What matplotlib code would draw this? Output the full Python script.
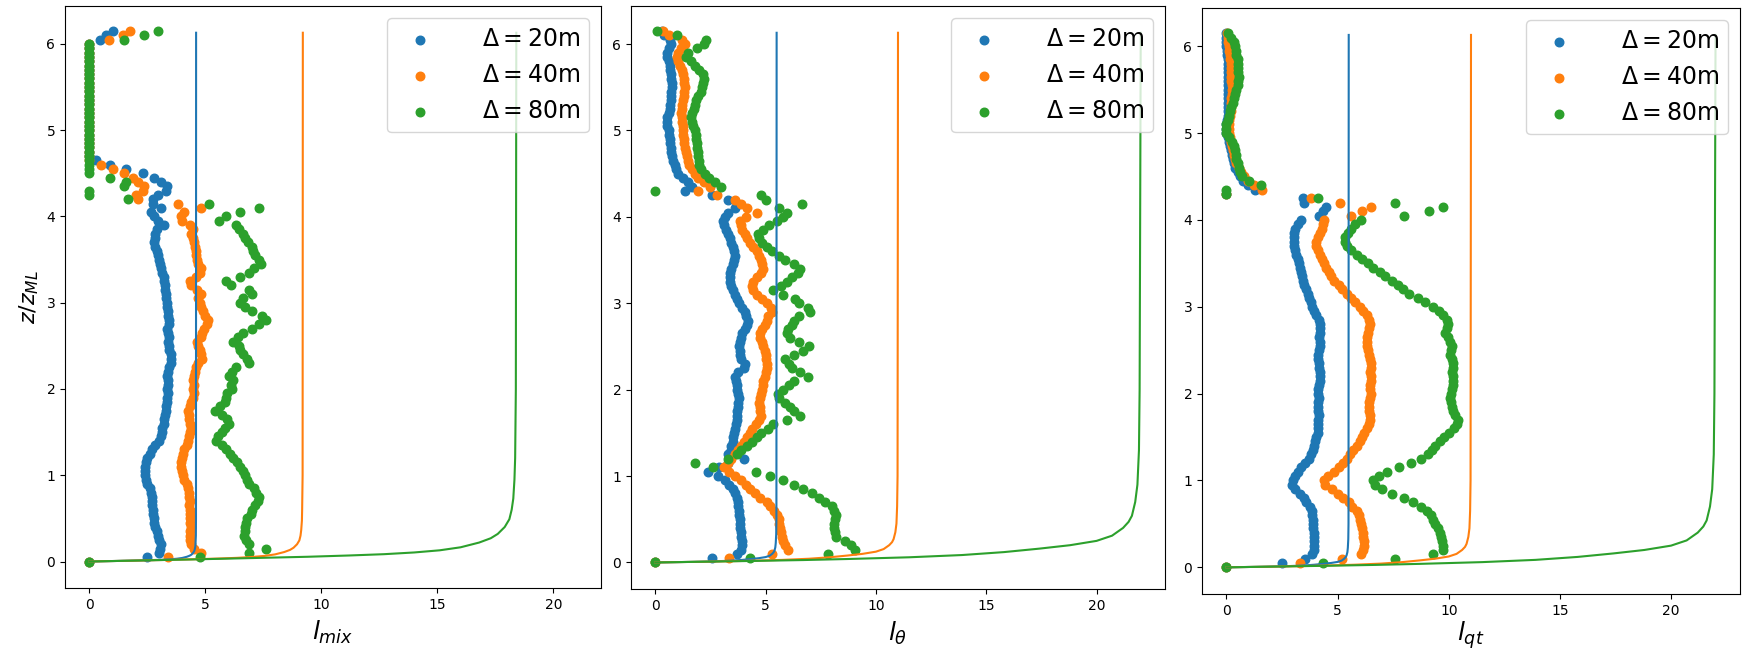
import numpy as np
import matplotlib
matplotlib.use('Agg')
import matplotlib.pyplot as plt

# height levels z/z_ML shared by all profiles (0.00, 0.05, ... 6.15)
z = np.round(np.arange(124) * 0.05, 2)

labels = [r'$\Delta = 20$m', r'$\Delta = 40$m', r'$\Delta = 80$m']
colors = ['#1f77b4', '#ff7f0e', '#2ca02c']

# ---- l_mix ----
mix_20 = [0, 2.5, 3.0, 3.05, 3.1, 3.0, 2.95, 2.9, 2.85, 2.8, 2.8, 2.75, 2.75, 2.7, 2.7, 2.7, 2.65, 2.6, 2.5, 2.45,
          2.4, 2.4, 2.4, 2.45, 2.5, 2.6, 2.7, 2.85, 3.0, 3.1, 3.15, 3.15, 3.2, 3.2, 3.25, 3.3, 3.3, 3.35, 3.35, 3.4,
          3.35, 3.4, 3.4, 3.35, 3.4, 3.45, 3.5, 3.5, 3.5, 3.45, 3.45, 3.4, 3.45, 3.4, 3.35, 3.45, 3.45, 3.4, 3.4, 3.35,
          3.35, 3.3, 3.3, 3.25, 3.25, 3.2, 3.2, 3.15, 3.1, 3.05, 3.0, 2.95, 2.9, 2.85, 2.8, 2.85, 2.85, 2.9, 3.2, 2.95,
          2.8, 2.65, 3.1, 2.75, 2.75, 2.95, 3.3, 3.35, 3.1, 2.8, 2.3, 1.6, 0.9, 0.3, 0, 0, 0, 0, 0, 0,
          0, 0, 0, 0, 0, 0, 0, 0, 0, 0, 0, 0, 0, 0, 0, 0, 0, 0, 0, 0,
          0, 0.45, 0.7, 1.0]
mix_40 = [0, 3.4, 4.8, 4.5, 4.4, 4.35, 4.35, 4.35, 4.4, 4.35, 4.35, 4.35, 4.35, 4.3, 4.35, 4.3, 4.3, 4.25, 4.2, 4.1,
          4.05, 4.0, 3.95, 3.95, 4.0, 4.05, 4.1, 4.2, 4.25, 4.3, 4.35, 4.4, 4.35, 4.3, 4.3, 4.25, 4.35, 4.4, 4.45, 4.5,
          4.45, 4.5, 4.45, 4.5, 4.55, 4.6, 4.7, 4.85, 4.8, 4.75, 4.7, 4.65, 4.8, 4.85, 4.95, 5.05, 5.1, 5.0, 4.9, 4.8,
          4.75, 4.7, 4.8, 4.65, 4.4, 4.35, 4.6, 4.75, 4.8, 4.7, 4.65, 4.6, 4.6, 4.55, 4.5, 4.45, 4.4, 4.45, 4.35, 4.0,
          3.95, 4.1, 4.8, 3.8, 2.1, 2.0, 2.3, 2.35, 2.1, 1.9, 1.5, 1.0, 0.5, 0, 0, 0, 0, 0, 0, 0,
          0, 0, 0, 0, 0, 0, 0, 0, 0, 0, 0, 0, 0, 0, 0, 0, 0, 0, 0, 0,
          0, 0.85, 1.45, 1.75]
mix_80 = [0, 4.75, 6.9, 7.6, 6.9, 6.75, 6.65, 6.7, 6.7, 6.75, 6.8, 6.95, 7.0, 7.15, 7.25, 7.3, 7.2, 7.1, 6.9, 6.8,
          6.7, 6.6, 6.5, 6.35, 6.2, 6.05, 5.9, 5.7, 5.45, 5.55, 5.7, 5.85, 6.0, 5.95, 5.7, 5.4, 5.65, 5.85, 5.9, 5.95,
          6.15, 6.1, 6.2, 6.0, 6.15, 6.3, 6.9, 6.8, 6.6, 6.5, 6.45, 6.2, 6.4, 6.6, 7.0, 7.3, 7.6, 7.45, 7.0, 6.7,
          6.5, 6.6, 7.0, 6.9, 6.1, 5.9, 6.5, 6.9, 7.1, 7.4, 7.3, 7.15, 7.05, 7.0, 6.85, 6.7, 6.6, 6.45, 6.3, 5.6,
          5.9, 6.5, 7.3, 5.15, 1.65, 0, 0, 1.5, 1.6, 0.9, 0, 0, 0, 0, 0, 0, 0, 0, 0, 0,
          0, 0, 0, 0, 0, 0, 0, 0, 0, 0, 0, 0, 0, 0, 0, 0, 0, 0, 0, 0,
          0, 1.5, 2.35, 2.95]

# ---- l_theta ----
th_20 = [0, 2.55, 3.7, 3.9, 3.95, 3.95, 3.9, 3.9, 3.85, 3.85, 3.85, 3.8, 3.8, 3.75, 3.75, 3.7, 3.6, 3.5, 3.35, 3.15,
         2.85, 2.4, 2.9, 3.3, 4.0, 3.3, 3.45, 3.45, 3.5, 3.5, 3.55, 3.6, 3.65, 3.7, 3.7, 3.7, 3.75, 3.75, 3.8, 3.75,
         3.7, 3.7, 3.65, 3.6, 3.75, 4.0, 4.05, 3.9, 3.85, 3.85, 3.8, 3.85, 3.9, 3.95, 4.05, 4.15, 4.2, 4.1, 4.05, 3.95,
         3.8, 3.7, 3.6, 3.5, 3.45, 3.4, 3.4, 3.4, 3.45, 3.5, 3.55, 3.6, 3.55, 3.5, 3.45, 3.4, 3.3, 3.2, 3.1, 3.05,
         3.15, 3.3, 3.6, 3.7, 3.3, 2.55, 1.35, 1.65, 1.5, 1.25, 1.05, 0.95, 0.9, 0.8, 0.75, 0.7, 0.7, 0.65, 0.65, 0.6,
         0.6, 0.55, 0.55, 0.55, 0.6, 0.65, 0.65, 0.7, 0.7, 0.7, 0.75, 0.75, 0.7, 0.7, 0.65, 0.65, 0.6, 0.55, 0.55, 0.6,
         0.7, 0.65, 0.4, 0.3]
th_40 = [0, 3.35, 5.3, 6.0, 5.9, 5.8, 5.75, 5.7, 5.65, 5.6, 5.6, 5.5, 5.4, 5.2, 5.05, 4.75, 4.5, 4.3, 4.1, 3.9,
         3.6, 3.35, 3.1, 3.3, 3.45, 3.6, 3.75, 3.9, 4.0, 4.15, 4.3, 4.4, 4.55, 4.7, 4.8, 4.75, 4.75, 4.7, 4.75, 4.8,
         4.85, 4.9, 4.9, 4.95, 5.0, 5.05, 5.05, 5.0, 5.0, 4.95, 4.9, 4.85, 4.75, 4.75, 4.85, 4.95, 5.05, 5.1, 5.3, 5.25,
         5.05, 4.85, 4.6, 4.45, 4.4, 4.45, 4.6, 4.8, 4.9, 4.85, 4.8, 4.7, 4.6, 4.45, 4.3, 4.15, 4.05, 3.95, 3.9, 3.85,
         4.1, 4.6, 4.15, 3.9, 3.6, 2.8, 1.95, 2.5, 2.2, 1.95, 1.8, 1.65, 1.55, 1.5, 1.45, 1.4, 1.35, 1.3, 1.3, 1.25,
         1.25, 1.25, 1.2, 1.2, 1.15, 1.2, 1.2, 1.25, 1.3, 1.3, 1.35, 1.3, 1.3, 1.25, 1.2, 1.1, 1.05, 1.0, 1.05, 1.15,
         1.35, 1.2, 0.6, 0.35]
th_80 = [0, 4.3, 7.85, 9.05, 8.85, 8.6, 8.2, 8.15, 8.1, 8.1, 8.15, 8.2, 8.1, 8.0, 7.7, 7.4, 7.1, 6.7, 6.3, 5.8,
         5.2, 4.55, 2.6, 1.8, 3.3, 3.7, 3.9, 4.15, 4.4, 4.6, 4.8, 5.1, 5.35, 5.95, 6.55, 6.3, 6.1, 5.9, 5.6, 5.55,
         5.8, 6.05, 6.3, 6.9, 6.55, 6.2, 6.05, 5.9, 6.3, 6.7, 6.95, 6.5, 6.1, 5.95, 6.0, 6.2, 6.3, 6.5, 7.0, 6.9,
         6.5, 6.35, 5.8, 5.35, 5.7, 5.95, 6.2, 6.45, 6.55, 6.3, 5.9, 5.6, 5.3, 5.05, 4.85, 4.7, 4.65, 4.9, 5.15, 5.5,
         5.8, 5.95, 5.6, 6.65, 5.0, 4.8, 0, 3.0, 2.7, 2.45, 2.25, 2.05, 2.0, 2.0, 1.95, 1.95, 1.9, 1.9, 1.85, 1.85,
         1.8, 1.7, 1.65, 1.6, 1.65, 1.75, 1.8, 1.85, 1.95, 2.05, 2.1, 2.15, 2.2, 2.15, 2.0, 1.8, 1.6, 1.4, 1.5, 1.9,
         2.2, 2.3, 1.0, 0.1]

# ---- l_qt ----
qt_20 = [0, 2.5, 3.55, 3.85, 3.95, 3.95, 3.95, 3.95, 3.95, 3.9, 3.9, 3.9, 3.85, 3.85, 3.75, 3.6, 3.5, 3.3, 3.1, 2.95,
         3.0, 3.1, 3.2, 3.35, 3.55, 3.7, 3.8, 3.9, 3.95, 4.0, 4.05, 4.1, 4.1, 4.1, 4.1, 4.15, 4.1, 4.1, 4.1, 4.15,
         4.1, 4.1, 4.15, 4.2, 4.2, 4.2, 4.15, 4.15, 4.1, 4.1, 4.15, 4.2, 4.2, 4.15, 4.2, 4.2, 4.2, 4.15, 4.05, 3.95,
         3.85, 3.8, 3.7, 3.65, 3.6, 3.5, 3.45, 3.4, 3.35, 3.3, 3.25, 3.2, 3.15, 3.1, 3.05, 3.05, 3.05, 3.05, 3.1, 3.2,
         3.35, 4.15, 4.35, 4.5, 3.5, 3.45, 0, 1.3, 0.95, 0.75, 0.6, 0.5, 0.4, 0.35, 0.3, 0.25, 0.2, 0.15, 0.1, 0.05,
         0, 0, 0, 0.02, 0.05, 0.05, 0.05, 0.05, 0.05, 0.05, 0.05, 0.05, 0.05, 0.05, 0.05, 0.05, 0.05, 0.05, 0.03, 0.03,
         0, 0, 0, 0]
qt_40 = [0, 3.3, 5.2, 6.05, 6.15, 6.2, 6.2, 6.15, 6.15, 6.1, 6.05, 6.0, 5.95, 5.85, 5.65, 5.5, 5.25, 5.0, 4.75, 4.45,
         4.4, 4.55, 4.85, 5.05, 5.25, 5.4, 5.55, 5.7, 5.85, 6.0, 6.1, 6.2, 6.3, 6.4, 6.45, 6.45, 6.4, 6.4, 6.4, 6.45,
         6.5, 6.45, 6.45, 6.5, 6.5, 6.45, 6.5, 6.5, 6.45, 6.4, 6.35, 6.3, 6.3, 6.3, 6.35, 6.4, 6.45, 6.4, 6.3, 6.15,
         6.0, 5.8, 5.6, 5.4, 5.2, 5.05, 4.85, 4.7, 4.6, 4.5, 4.4, 4.3, 4.2, 4.1, 4.05, 4.05, 4.1, 4.2, 4.3, 4.35,
         4.4, 5.6, 6.1, 6.5, 5.1, 3.8, 0, 1.6, 1.25, 0.95, 0.8, 0.65, 0.55, 0.45, 0.4, 0.35, 0.3, 0.25, 0.2, 0.15,
         0.1, 0.1, 0.1, 0.12, 0.15, 0.2, 0.2, 0.2, 0.22, 0.25, 0.25, 0.25, 0.22, 0.2, 0.2, 0.2, 0.2, 0.15, 0.15, 0.12,
         0.1, 0.08, 0.05, 0.02]
qt_80 = [0, 4.35, 7.6, 9.3, 9.75, 9.75, 9.7, 9.65, 9.6, 9.5, 9.4, 9.3, 9.2, 9.0, 8.75, 8.4, 8.0, 7.45, 7.0, 6.7,
         6.6, 6.85, 7.2, 7.75, 8.3, 8.75, 9.05, 9.25, 9.4, 9.6, 9.8, 10.0, 10.25, 10.35, 10.4, 10.3, 10.2, 10.15, 10.1, 10.05,
         10.1, 10.15, 10.2, 10.2, 10.2, 10.15, 10.2, 10.2, 10.15, 10.05, 10.1, 10.15, 10.05, 9.95, 9.85, 9.9, 9.95, 9.9, 9.75, 9.55,
         9.3, 8.95, 8.6, 8.2, 7.95, 7.7, 7.45, 7.15, 6.9, 6.6, 6.35, 6.1, 5.85, 5.6, 5.4, 5.35, 5.35, 5.45, 5.6, 5.8,
         6.05, 8.0, 9.1, 9.75, 7.6, 4.1, 0, 0, 1.55, 1.0, 0.7, 0.6, 0.55, 0.5, 0.45, 0.45, 0.4, 0.35, 0.25, 0.1,
         0, 0, 0, 0.05, 0.1, 0.15, 0.2, 0.3, 0.35, 0.4, 0.45, 0.5, 0.5, 0.55, 0.5, 0.5, 0.5, 0.5, 0.45, 0.45,
         0.4, 0.35, 0.2, 0.05]

# model length-scale curves (value, height)
mix_line_20 = ([0, 0.5, 1.1, 1.75, 2.35, 2.8, 3.18, 3.5, 3.78, 4.0, 4.2, 4.32, 4.4, 4.47, 4.52, 4.55, 4.57, 4.58,
                4.59, 4.595, 4.6],
               [0, 0.0028, 0.006, 0.01, 0.014, 0.0175, 0.021, 0.026, 0.0325, 0.041, 0.055, 0.0675, 0.08, 0.1, 0.12,
                0.15, 0.18, 0.24, 0.3, 0.5, 6.13])
mix_line_40 = ([0, 1.0, 2.2, 3.5, 4.7, 5.6, 6.35, 7.0, 7.55, 8.0, 8.4, 8.65, 8.8, 8.95, 9.05, 9.1, 9.13, 9.16,
                9.17, 9.19, 9.2],
               [0, 0.0055, 0.012, 0.02, 0.0275, 0.035, 0.0425, 0.0525, 0.065, 0.0825, 0.11, 0.135, 0.16, 0.2, 0.245,
                0.3, 0.365, 0.475, 0.6, 1.0, 6.13])
mix_line_80 = ([0, 2.0, 4.4, 7.0, 9.4, 11.2, 12.7, 14.0, 15.1, 16.0, 16.8, 17.3, 17.6, 17.9, 18.1, 18.2, 18.27,
                18.32, 18.35, 18.38, 18.4],
               [0, 0.011, 0.024, 0.04, 0.055, 0.07, 0.085, 0.105, 0.13, 0.165, 0.22, 0.27, 0.32, 0.4, 0.49, 0.6,
                0.73, 0.95, 1.2, 2.0, 6.13])
th_line_20 = ([0, 0.55, 1.1, 1.68, 2.18, 2.88, 3.48, 3.95, 4.35, 4.7, 5.0, 5.18, 5.3, 5.36, 5.4, 5.44, 5.46, 5.48,
               5.49, 5.5],
              [0, 0.0023, 0.0045, 0.007, 0.01, 0.015, 0.0215, 0.03, 0.04, 0.05, 0.0625, 0.0775, 0.1, 0.1175, 0.135,
               0.175, 0.225, 0.325, 0.5, 6.13])
th_line_40 = ([0, 1.1, 2.25, 3.35, 4.35, 5.75, 6.95, 7.9, 8.7, 9.4, 10.0, 10.35, 10.6, 10.73, 10.8, 10.88, 10.93,
               10.96, 10.98, 11.0],
              [0, 0.0045, 0.009, 0.014, 0.02, 0.03, 0.043, 0.06, 0.08, 0.1, 0.125, 0.155, 0.2, 0.235, 0.27, 0.35,
               0.45, 0.65, 1.0, 6.13])
th_line_80 = ([0, 2.2, 4.5, 6.7, 8.7, 11.5, 13.9, 15.8, 17.4, 18.8, 20.0, 20.7, 21.2, 21.45, 21.6, 21.75, 21.85,
               21.92, 21.95, 22.0],
              [0, 0.009, 0.018, 0.028, 0.04, 0.06, 0.086, 0.12, 0.16, 0.2, 0.25, 0.31, 0.4, 0.47, 0.54, 0.7, 0.9,
               1.3, 2.0, 6.13])

xlabels = [r'$l_{mix}$', r'$l_{\theta}$', r'$l_{qt}$']

W, H = 1742, 652
fig = plt.figure(figsize=(W / 100, H / 100), dpi=100)

# axes boxes in pixels: left, top, right, bottom
boxes = [(65, 6, 601, 588), (631, 6, 1165, 589), (1202, 8, 1740, 594)]
xlims = [(-1.05, 22.05), (-1.1, 23.1), (-1.1, 23.1)]
pads = [5, 5, 1]

profiles = [(mix_20, mix_40, mix_80), (th_20, th_40, th_80), (qt_20, qt_40, qt_80)]
model = [(mix_line_20, mix_line_40, mix_line_80),
         (th_line_20, th_line_40, th_line_80),
         (th_line_20, th_line_40, th_line_80)]

for i in range(3):
    l, t, r, b = boxes[i]
    ax = fig.add_axes([l / W, 1 - b / H, (r - l) / W, (b - t) / H])
    for k in range(3):
        ax.scatter(profiles[i][k], z, s=38, color=colors[k], label=labels[k])
    for k in range(3):
        ax.plot(model[i][k][0], model[i][k][1], color=colors[k], lw=1.5)
    ax.set_xlim(*xlims[i])
    ax.set_ylim(-0.307, 6.44)
    ax.set_xticks([0, 5, 10, 15, 20])
    ax.set_xlabel(xlabels[i], fontsize=18, labelpad=pads[i])
    if i == 0:
        ax.set_ylabel(r'$z/z_{ML}$', fontsize=16)
    ax.legend(loc='upper right', fontsize=17, handletextpad=1.6)

fig.savefig('out.png', dpi=100)
